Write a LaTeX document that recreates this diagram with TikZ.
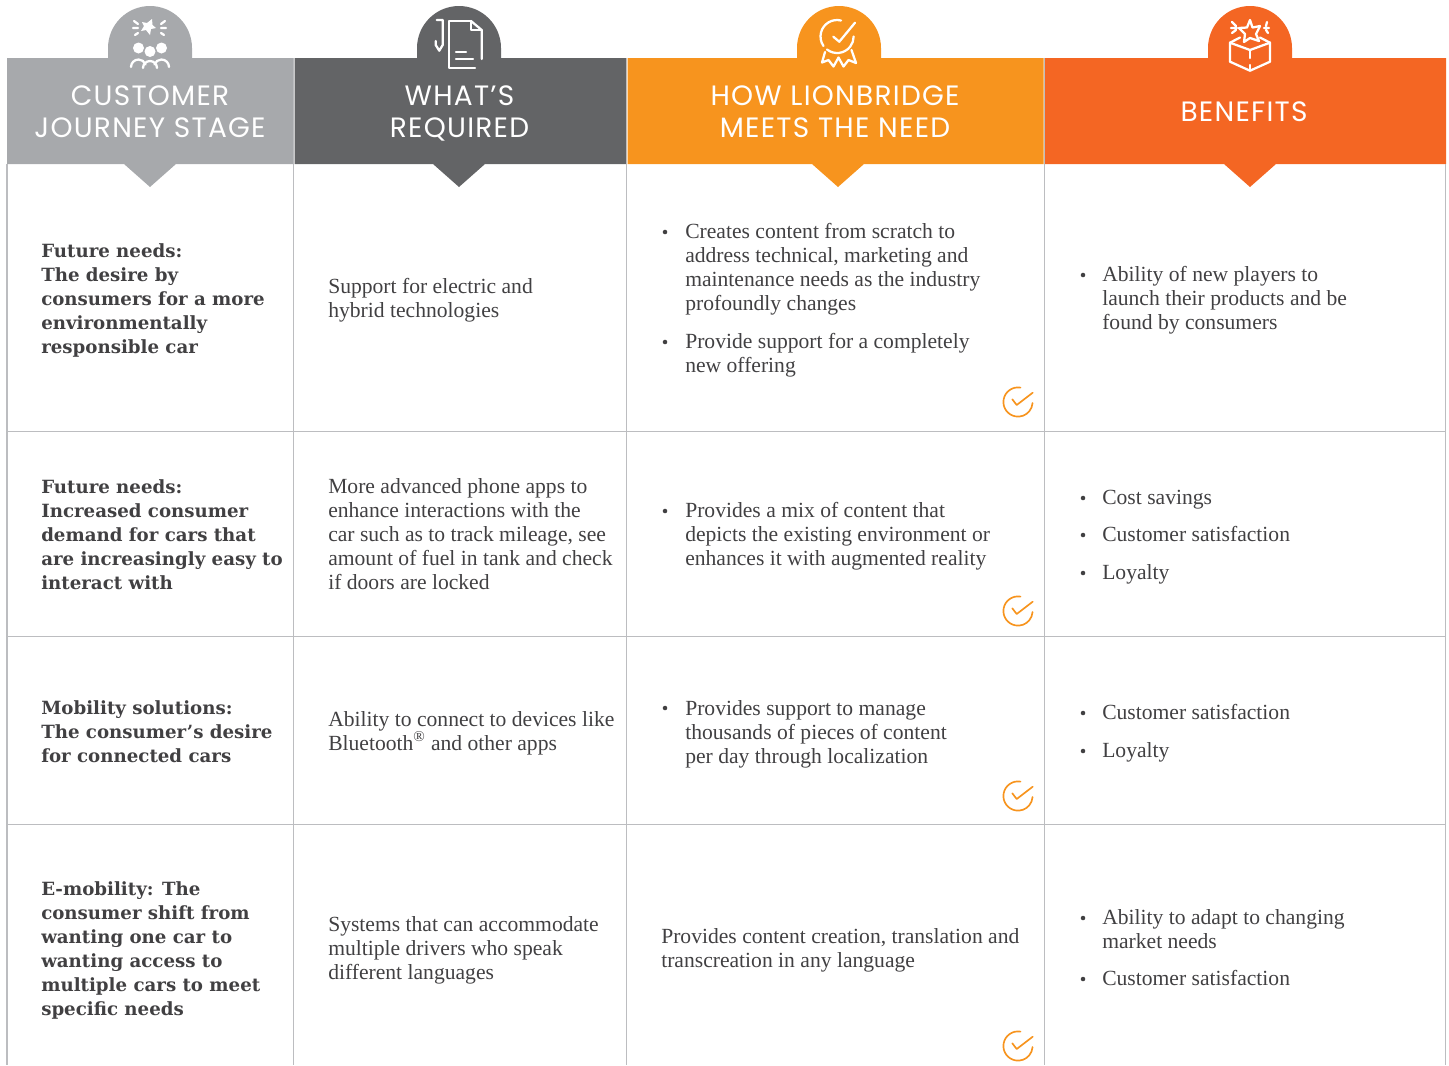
\documentclass[tikz,border=0pt]{standalone}
\usepackage{fontspec}
\setmainfont{Liberation Serif}
\newfontfamily\bodyf{Liberation Serif}
\newfontfamily\boldf{DejaVu Serif}
\newfontfamily\headf[LetterSpace=4.5]{Poppins}
\definecolor{cgray}{HTML}{A7A9AC}
\definecolor{cdark}{HTML}{636466}
\definecolor{corange}{HTML}{F7941E}
\definecolor{cred}{HTML}{F46623}
\definecolor{cline}{HTML}{BCBDC0}
\definecolor{ctext}{HTML}{414042}
\tikzset{
  x=0.75pt,y=-0.75pt,
  grid line/.style={draw=cline,line width=0.9pt},
  head text/.style={text=white,align=center,font=\headf\fontsize{21pt}{24pt}\selectfont,inner sep=0pt},
  body text/.style={text=ctext,align=left,anchor=base west,inner sep=0pt,font=\bodyf\fontsize{16.2pt}{18pt}\selectfont},
  lead text/.style={text=ctext,align=left,anchor=base west,inner sep=0pt,font=\boldf\bfseries\fontsize{13.65pt}{18pt}\selectfont},
  dot mark/.style={circle,fill=ctext,inner sep=0pt,minimum size=3.4pt},
  icon line/.style={draw=white,line width=1.7pt,line cap=round,line join=round},
  tick line/.style={draw=corange,line width=1.25pt,line cap=round,line join=round},
}
\begin{document}
\begin{tikzpicture}
\useasboundingbox (0,0) rectangle (1449,1065);
% header bands
\fill[cgray] (108,48) arc[start angle=180,end angle=360,radius=42] -- (192,58) -- (293,58) -- (293,164) -- (176,164) -- (150,187) -- (124,164) -- (7,164) -- (7,58) -- (108,58) -- cycle;
\fill[cdark] (417,48) arc[start angle=180,end angle=360,radius=42] -- (501,58) -- (626,58) -- (626,164) -- (485,164) -- (459,187) -- (433,164) -- (294.5,164) -- (294.5,58) -- (417,58) -- cycle;
\fill[corange] (797,48) arc[start angle=180,end angle=360,radius=42] -- (881,58) -- (1043.5,58) -- (1043.5,164) -- (864,164) -- (838,187) -- (812,164) -- (627.5,164) -- (627.5,58) -- (797,58) -- cycle;
\fill[cred] (1208,48) arc[start angle=180,end angle=360,radius=42] -- (1292,58) -- (1446,58) -- (1446,164) -- (1276,164) -- (1250,187) -- (1224,164) -- (1045,164) -- (1045,58) -- (1208,58) -- cycle;
% grid
\draw[grid line] (7,164) -- (7,1065);
\draw[grid line] (293.7,58) -- (293.7,1065);
\draw[grid line] (626.7,58) -- (626.7,1065);
\draw[grid line] (1044.2,58) -- (1044.2,1065);
\draw[grid line] (1445.5,164) -- (1445.5,1065);
\draw[grid line] (7,431.5) -- (1445.5,431.5);
\draw[grid line] (7,636.5) -- (1445.5,636.5);
\draw[grid line] (7,824.5) -- (1445.5,824.5);
% header labels
\node[head text] (h1) at (150,112) {CUSTOMER\\JOURNEY STAGE};
\node[head text] (h2) at (459.5,113) {WHAT’S\\REQUIRED};
\node[head text] (h3) at (835,112) {HOW LIONBRIDGE\\MEETS THE NEED};
\node[head text] (h4) at (1244,112) {BENEFITS};
% header icon 1
\begin{scope}
\fill[white] (138.5,48) circle (5.5) (150,51.5) circle (5.5) (161.5,48) circle (5.5);
\draw[icon line] (131,67) arc[start angle=180,end angle=340,radius=7.5];
\draw[icon line] (143,68) arc[start angle=180,end angle=360,radius=7];
\draw[icon line] (169,67) arc[start angle=0,end angle=-160,radius=7.5];
\fill[white] (152,19) -- (152.5,25) -- (156,28) -- (151,29) -- (150,35) -- (146,30) -- (141,31) -- (144,26) -- (142,22) -- (147,23) -- cycle;
\draw[icon line] (134,21) -- (138,24) (133,28) -- (138,28) (135,35) -- (138,33)
 (165,21) -- (161,24) (166,28) -- (161,28) (164,35) -- (161,33);
\end{scope}
% header icon 2
\draw[icon line] (436.7,20) -- (442.7,20) -- (442.7,45) -- (439.3,50.7) -- (435.7,45) -- (435.7,41);
\draw[icon line] (470,21) -- (449.3,21) -- (449.3,68) -- (475,68);
\draw[icon line] (471,21) -- (481.7,30) -- (481.7,59);
\draw[icon line] (471,21) -- (471,30) -- (481.7,30);
\draw[icon line] (456,51.7) -- (466,51.7) (456,58.7) -- (473,58.7);
% header icon 3
\draw[icon line] (841,20.5) arc[start angle=-76,end angle=-215,radius=16.5];
\draw[icon line] (827,49.5) arc[start angle=-232,end angle=-360,radius=16.5];
\draw[icon line] (833.3,36.7) -- (839.3,41.7) -- (855,22.7);
\draw[icon line] (825,52) -- (822,62.5) -- (828.5,60) -- (833.5,66.5) -- (838.5,57.5) -- (843.5,66.5) -- (848.5,60) -- (856,63) -- (851.5,50);
% header icon 4
\draw[icon line] (1230,42.7) -- (1240,37.5) (1260,37.5) -- (1270,42.7) ;
\draw[icon line] (1230,42.7) -- (1250,50) -- (1270,42.7) -- (1270,61.7) -- (1250,70.7) -- (1230,61.7) -- cycle;
\draw[icon line] (1250,50) -- (1250,58) (1250,65) -- (1250,70.7);
\draw[icon line] (1250,20) -- (1252.5,27.5) -- (1260,26) -- (1256,34) -- (1259,41) -- (1250,38) -- (1244,42) -- (1245,34) -- (1239,28) -- (1247,27.5) -- cycle;
\draw[icon line] (1232,22) -- (1236,26) (1231,28) -- (1237,28) (1232,33) -- (1236,30)
 (1267,22) -- (1266,26) (1269,28) -- (1264,28) (1268,33) -- (1266,30);
% row 1
\node[lead text] (a1) at (41,353) {Future needs:\\The desire by\\consumers for a more\\environmentally\\responsible car};
\node[body text] (b1) at (328,317) {Support for electric and\\hybrid technologies};
\node[body text] (c1a) at (685,310) {Creates content from scratch to\\address technical, marketing and\\maintenance needs as the industry\\profoundly changes};
\node[dot mark] (c1ad) at (665,232) {};
\node[body text] (c1b) at (685,372) {Provide support for a completely\\new offering};
\node[dot mark] (c1bd) at (665,342) {};
\node[body text] (d1) at (1102,329) {Ability of new players to\\launch their products and be\\found by consumers};
\node[dot mark] (d1d) at (1083,275) {};
% row 2
\node[lead text] (a2) at (41,589) {Future needs:\\Increased consumer\\demand for cars that\\are increasingly easy to\\interact with};
\node[body text] (b2) at (328,589) {More advanced phone apps to\\enhance interactions with the\\car such as to track mileage, see\\amount of fuel in tank and check\\if doors are locked};
\node[body text] (c2) at (685,565) {Provides a mix of content that\\depicts the existing environment or\\enhances it with augmented reality};
\node[dot mark] (c2d) at (665,511) {};
\node[body text] (d2a) at (1102,504) {Cost savings};
\node[dot mark] (d2ad) at (1083,498) {};
\node[body text] (d2b) at (1102,541) {Customer satisfaction};
\node[dot mark] (d2bd) at (1083,535) {};
\node[body text] (d2c) at (1102,579) {Loyalty};
\node[dot mark] (d2cd) at (1083,573) {};
% row 3
\node[lead text] (a3) at (41,762) {Mobility solutions:\\The consumer’s desire\\for connected cars};
\node[body text] (b3) at (328,750) {Ability to connect to devices like\\Bluetooth\textsuperscript{®} and other apps};
\node[body text] (c3) at (685,763) {Provides support to manage\\thousands of pieces of content\\per day through localization};
\node[dot mark] (c3d) at (665,708) {};
\node[body text] (d3a) at (1102,719) {Customer satisfaction};
\node[dot mark] (d3ad) at (1083,713) {};
\node[body text] (d3b) at (1102,757) {Loyalty};
\node[dot mark] (d3bd) at (1083,751) {};
% row 4
\node[lead text] (a4) at (41,1015) {E-mobility: The\\consumer shift from\\wanting one car to\\wanting access to\\multiple cars to meet\\specific needs};
\node[body text] (b4) at (328,979) {Systems that can accommodate\\multiple drivers who speak\\different languages};
\node[body text] (c4) at (661,967) {Provides content creation, translation and\\transcreation in any language};
\node[body text] (d4a) at (1102,948) {Ability to adapt to changing\\market needs};
\node[dot mark] (d4ad) at (1083,918) {};
\node[body text] (d4b) at (1102,985) {Customer satisfaction};
\node[dot mark] (d4bd) at (1083,979) {};
% check marks
\foreach \cy in {402,611,796,1046}{
  \draw[tick line] (1018,\cy) ++(-80:14.6) arc[start angle=-80,end angle=-356,radius=14.6];
  \draw[tick line] (1012.3,\cy-2.7) -- (1016.7,\cy+3) -- (1032.7,\cy-9.3);
}
\end{tikzpicture}
\end{document}
